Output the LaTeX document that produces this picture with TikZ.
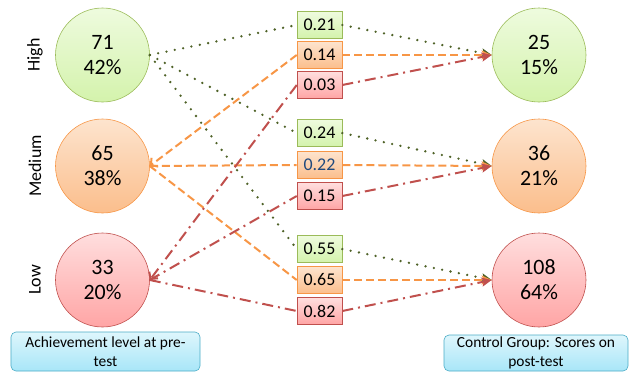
\documentclass[tikz,border=0pt]{standalone}
\usepackage{fontspec}
\setmainfont{Carlito}
\usetikzlibrary{arrows.meta,shapes.geometric}
\definecolor{gfillA}{RGB}{238,251,222}
\definecolor{gfillB}{RGB}{212,243,172}
\definecolor{gdraw}{RGB}{155,187,89}
\definecolor{ofillA}{RGB}{253,228,206}
\definecolor{ofillB}{RGB}{251,190,140}
\definecolor{odraw}{RGB}{247,150,70}
\definecolor{rfillA}{RGB}{255,222,222}
\definecolor{rfillB}{RGB}{255,165,165}
\definecolor{rdraw}{RGB}{192,80,77}
\definecolor{bfillA}{RGB}{222,246,252}
\definecolor{bfillB}{RGB}{168,230,248}
\definecolor{bdraw}{RGB}{75,172,198}
\definecolor{dgreen}{RGB}{79,98,40}
\definecolor{lorange}{RGB}{247,150,70}
\definecolor{lred}{RGB}{192,80,77}
\definecolor{tblue}{RGB}{31,73,125}
\tikzset{
  circ/.style={circle,minimum size=94bp,inner sep=0pt,align=center,line width=0.6bp,font=\fontsize{22}{25}\selectfont},
  gcirc/.style={circ,draw=gdraw,top color=gfillA,bottom color=gfillB},
  ocirc/.style={circ,draw=odraw,top color=ofillA,bottom color=ofillB},
  rcirc/.style={circ,draw=rdraw,top color=rfillA,bottom color=rfillB},
  vbox/.style={rectangle,minimum width=45bp,minimum height=27bp,inner sep=0pt,line width=0.6bp,font=\fontsize{18}{20}\selectfont},
  gbox/.style={vbox,draw=gdraw,top color=gfillA,bottom color=gfillB},
  obox/.style={vbox,draw=odraw,top color=ofillA,bottom color=ofillB},
  rbox/.style={vbox,draw=rdraw,top color=rfillA,bottom color=rfillB},
  caption/.style={rectangle,rounded corners=5bp,draw=bdraw,line width=0.6bp,top color=bfillA,bottom color=bfillB,align=center,inner sep=0pt,font=\fontsize{15.5}{19}\selectfont},
  lvl/.style={rotate=90,font=\fontsize{18}{20}\selectfont},
  gline/.style={draw=dgreen,line width=2.6bp,line cap=round,dash pattern=on 0bp off 8.5bp},
  oline/.style={draw=lorange,line width=2bp,dash pattern=on 8bp off 4bp},
  rline/.style={draw=lred,line width=2bp,dash pattern=on 11bp off 5bp on 2bp off 5bp},
  rtip/.style={-{Stealth[length=10bp,width=9bp,inset=2bp]}},
  ltip/.style={-{Straight Barb[length=5bp,width=11bp,line width=2bp]}}
}
\begin{document}
\begin{tikzpicture}[x=1bp,y=-1bp]
\useasboundingbox (0,0) rectangle (630,371);
% left circles
\node[gcirc] (lH) at (102.5,55) {71\\42\%};
\node[ocirc] (lM) at (102.5,166) {65\\38\%};
\node[rcirc] (lL) at (102.5,280) {33\\20\%};
% right circles
\node[gcirc] (rH) at (539,55) {25\\15\%};
\node[ocirc] (rM) at (539,166) {36\\21\%};
\node[rcirc] (rL) at (539,280) {108\\64\%};
% level labels
\node[lvl] (tH) at (35,55) {High};
\node[lvl] (tM) at (35,166) {Medium};
\node[lvl] (tL) at (35,280) {Low};
% middle boxes
\node[gbox] (b1) at (319.5,25) {0.21};
\node[obox] (b2) at (319.5,55) {0.14};
\node[rbox] (b3) at (319.5,85) {0.03};
\node[gbox] (b4) at (319.5,133) {0.24};
\node[obox,text=tblue] (b5) at (319.5,165) {0.22};
\node[rbox] (b6) at (319.5,196) {0.15};
\node[gbox] (b7) at (319.5,249) {0.55};
\node[obox] (b8) at (319.5,280) {0.65};
\node[rbox] (b9) at (319.5,311) {0.82};
% captions
\node[caption,minimum width=189bp,minimum height=39bp] (c1) at (105.5,351.5) {Achievement level at pre-\\test};
\node[caption,minimum width=184bp,minimum height=36bp] (c2) at (536,353) {Control Group: Scores on\\post-test};
% lines from left circles to boxes
\path[gline] (lH.east) -- (b1.west);
\path[gline] (lH.east) -- (b4.west);
\path[gline] (lH.east) -- (b7.west);
\path[oline,ltip] (b2.west) -- (lM.east);
\path[oline] (lM.east) -- (b5.west);
\path[oline] (lM.east) -- (b8.west);
\path[rline,ltip] (b3.west) -- (lL.east);
\path[rline] (lL.east) -- (b6.west);
\path[rline] (lL.east) -- (b9.west);
% lines from boxes to right circles
\path[gline,rtip] (b1.east) -- (rH.west);
\path[gline,rtip] (b4.east) -- (rM.west);
\path[gline,rtip] (b7.east) -- (rL.west);
\path[oline,rtip] (b2.east) -- (rH.west);
\path[oline,rtip] (b5.east) -- (rM.west);
\path[oline,rtip] (b8.east) -- (rL.west);
\path[rline,rtip] (b3.east) -- (rH.west);
\path[rline,rtip] (b6.east) -- (rM.west);
\path[rline,rtip] (b9.east) -- (rL.west);
\end{tikzpicture}
\end{document}
